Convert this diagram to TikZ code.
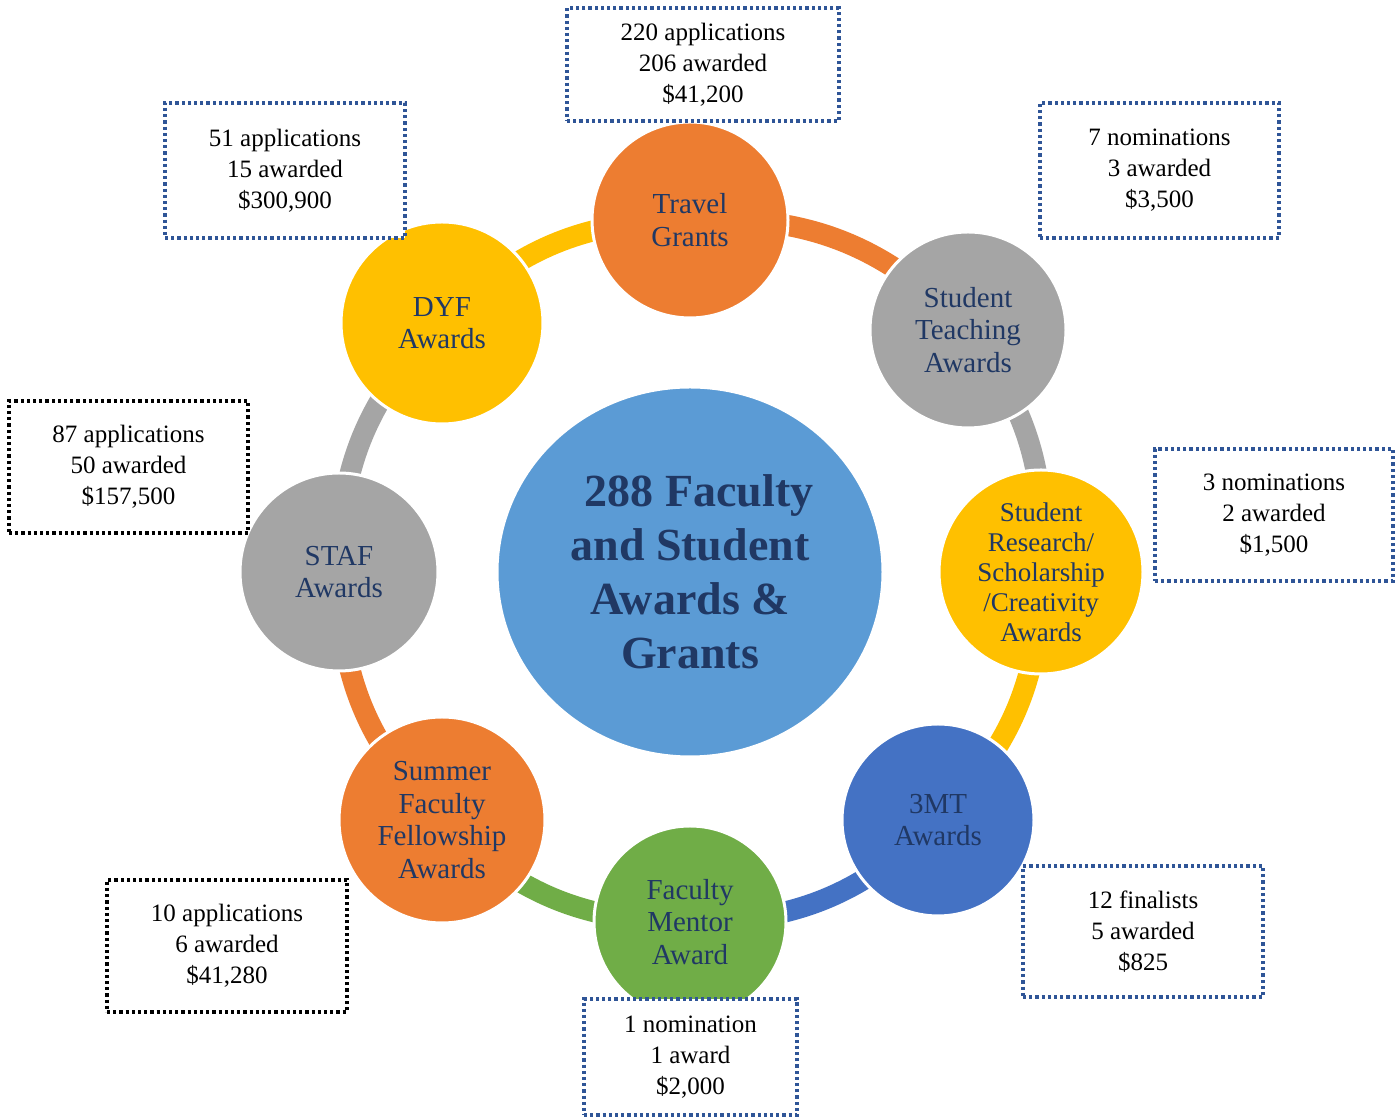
\documentclass[tikz,border=0pt]{standalone}
\usepackage{fontspec}
\setmainfont{Liberation Serif}
\usetikzlibrary{shapes.geometric}
\definecolor{cOrange}{HTML}{ED7D31}
\definecolor{cGray}{HTML}{A5A5A5}
\definecolor{cYellow}{HTML}{FFC000}
\definecolor{cBlue}{HTML}{4472C4}
\definecolor{cGreen}{HTML}{70AD47}
\definecolor{cCenter}{HTML}{5B9BD5}
\definecolor{cNavy}{HTML}{203864}
\definecolor{cDot}{HTML}{2F5597}
\tikzset{
  bubble/.style={circle, draw=white, line width=3pt, inner sep=0pt,
    text=cNavy, align=center, font=\fontsize{29}{32.5}\selectfont},
  ring/.style={line width=21pt},
  infobox/.style={rectangle, fill=white, draw=cDot, line width=3.2pt,
    dash pattern=on 3.2pt off 3pt, inner sep=0pt, align=center,
    font=\fontsize{25}{31}\selectfont},
  blackbox/.style={infobox, draw=black}
}
\begin{document}
\begin{tikzpicture}[x=1pt,y=1pt]
\useasboundingbox (0,0) rectangle (1398,1118);
\fill[white] (0,0) rectangle (1398,1118);

% positions of the eight award bubbles on the ring
\coordinate (pTravel) at (690,898);
\coordinate (pTeach)  at (968,788);
\coordinate (pRes)    at (1041,546);
\coordinate (pThree)  at (938,298);
\coordinate (pMentor) at (690,196);
\coordinate (pSummer) at (442,298);
\coordinate (pStaf)   at (339,546);
\coordinate (pDyf)    at (442,795);

% ring segments, each coloured like the bubble it leaves
\draw[ring, cOrange] (pTravel) to[bend left=24.5] (pTeach);
\draw[ring, cGray]   (pTeach)  to[bend left=20.5] (pRes);
\draw[ring, cYellow] (pRes)    to[bend left=22.5] (pThree);
\draw[ring, cBlue]   (pThree)  to[bend left=22.5] (pMentor);
\draw[ring, cGreen]  (pMentor) to[bend left=22.5] (pSummer);
\draw[ring, cOrange] (pSummer) to[bend left=22.5] (pStaf);
\draw[ring, cGray]   (pStaf)   to[bend left=22.5] (pDyf);
\draw[ring, cYellow] (pDyf)    to[bend left=22.5] (pTravel);

% central ellipse
\node[ellipse, fill=cCenter, draw=white, line width=3pt, minimum width=386pt,
  minimum height=370pt, inner sep=0pt, text=cNavy, align=center,
  font=\fontsize{46}{54}\selectfont\bfseries] (hub) at (690,546)
  {\hspace*{0.4em}288 Faculty\\and Student\\Awards \&\\Grants};

% award bubbles
\node[bubble, fill=cOrange, minimum size=196pt] (travel) at (pTravel) {Travel\\Grants};
\node[bubble, fill=cGray, minimum size=196pt] (teach) at (pTeach) {Student\\Teaching\\Awards};
\node[bubble, fill=cYellow, minimum width=204pt, font=\fontsize{27}{30}\selectfont] (res) at (pRes)
  {Student\\Research/\\Scholarship\\/Creativity\\Awards};
\node[bubble, fill=cBlue, minimum size=192pt] (three) at (pThree) {3MT\\Awards};
\node[bubble, fill=cGreen, minimum size=192pt] (mentor) at (pMentor) {Faculty\\Mentor\\Award};
\node[bubble, fill=cOrange, minimum size=206pt] (summer) at (pSummer) {Summer\\Faculty\\Fellowship\\Awards};
\node[bubble, fill=cGray, minimum size=198pt] (staf) at (pStaf) {STAF\\Awards};
\node[bubble, fill=cYellow, minimum size=202pt] (dyf) at (pDyf) {DYF\\Awards};

% figures for each award
\node[infobox, minimum width=272pt, minimum height=113pt] (bTravel) at (703,1053.5)
  {220 applications\\206 awarded\\\$41,200};
\node[infobox, minimum width=240pt, minimum height=135pt] (bDyf) at (285,947.5)
  {51 applications\\15 awarded\\\$300,900};
\node[infobox, minimum width=239pt, minimum height=135pt] (bTeach) at (1159.5,947.5)
  {7 nominations\\3 awarded\\\$3,500};
\node[blackbox, minimum width=239pt, minimum height=132pt] (bStaf) at (128.5,651)
  {87 applications\\50 awarded\\\$157,500};
\node[infobox, minimum width=238pt, minimum height=132pt] (bRes) at (1274,603)
  {3 nominations\\2 awarded\\\$1,500};
\node[infobox, minimum width=240pt, minimum height=131pt] (bThree) at (1143,186.5)
  {12 finalists\\5 awarded\\\$825};
\node[blackbox, minimum width=240pt, minimum height=132pt] (bSummer) at (227,172)
  {10 applications\\6 awarded\\\$41,280};
\node[infobox, minimum width=213pt, minimum height=116pt] (bMentor) at (690.5,61)
  {1 nomination\\1 award\\\$2,000};
\end{tikzpicture}
\end{document}
